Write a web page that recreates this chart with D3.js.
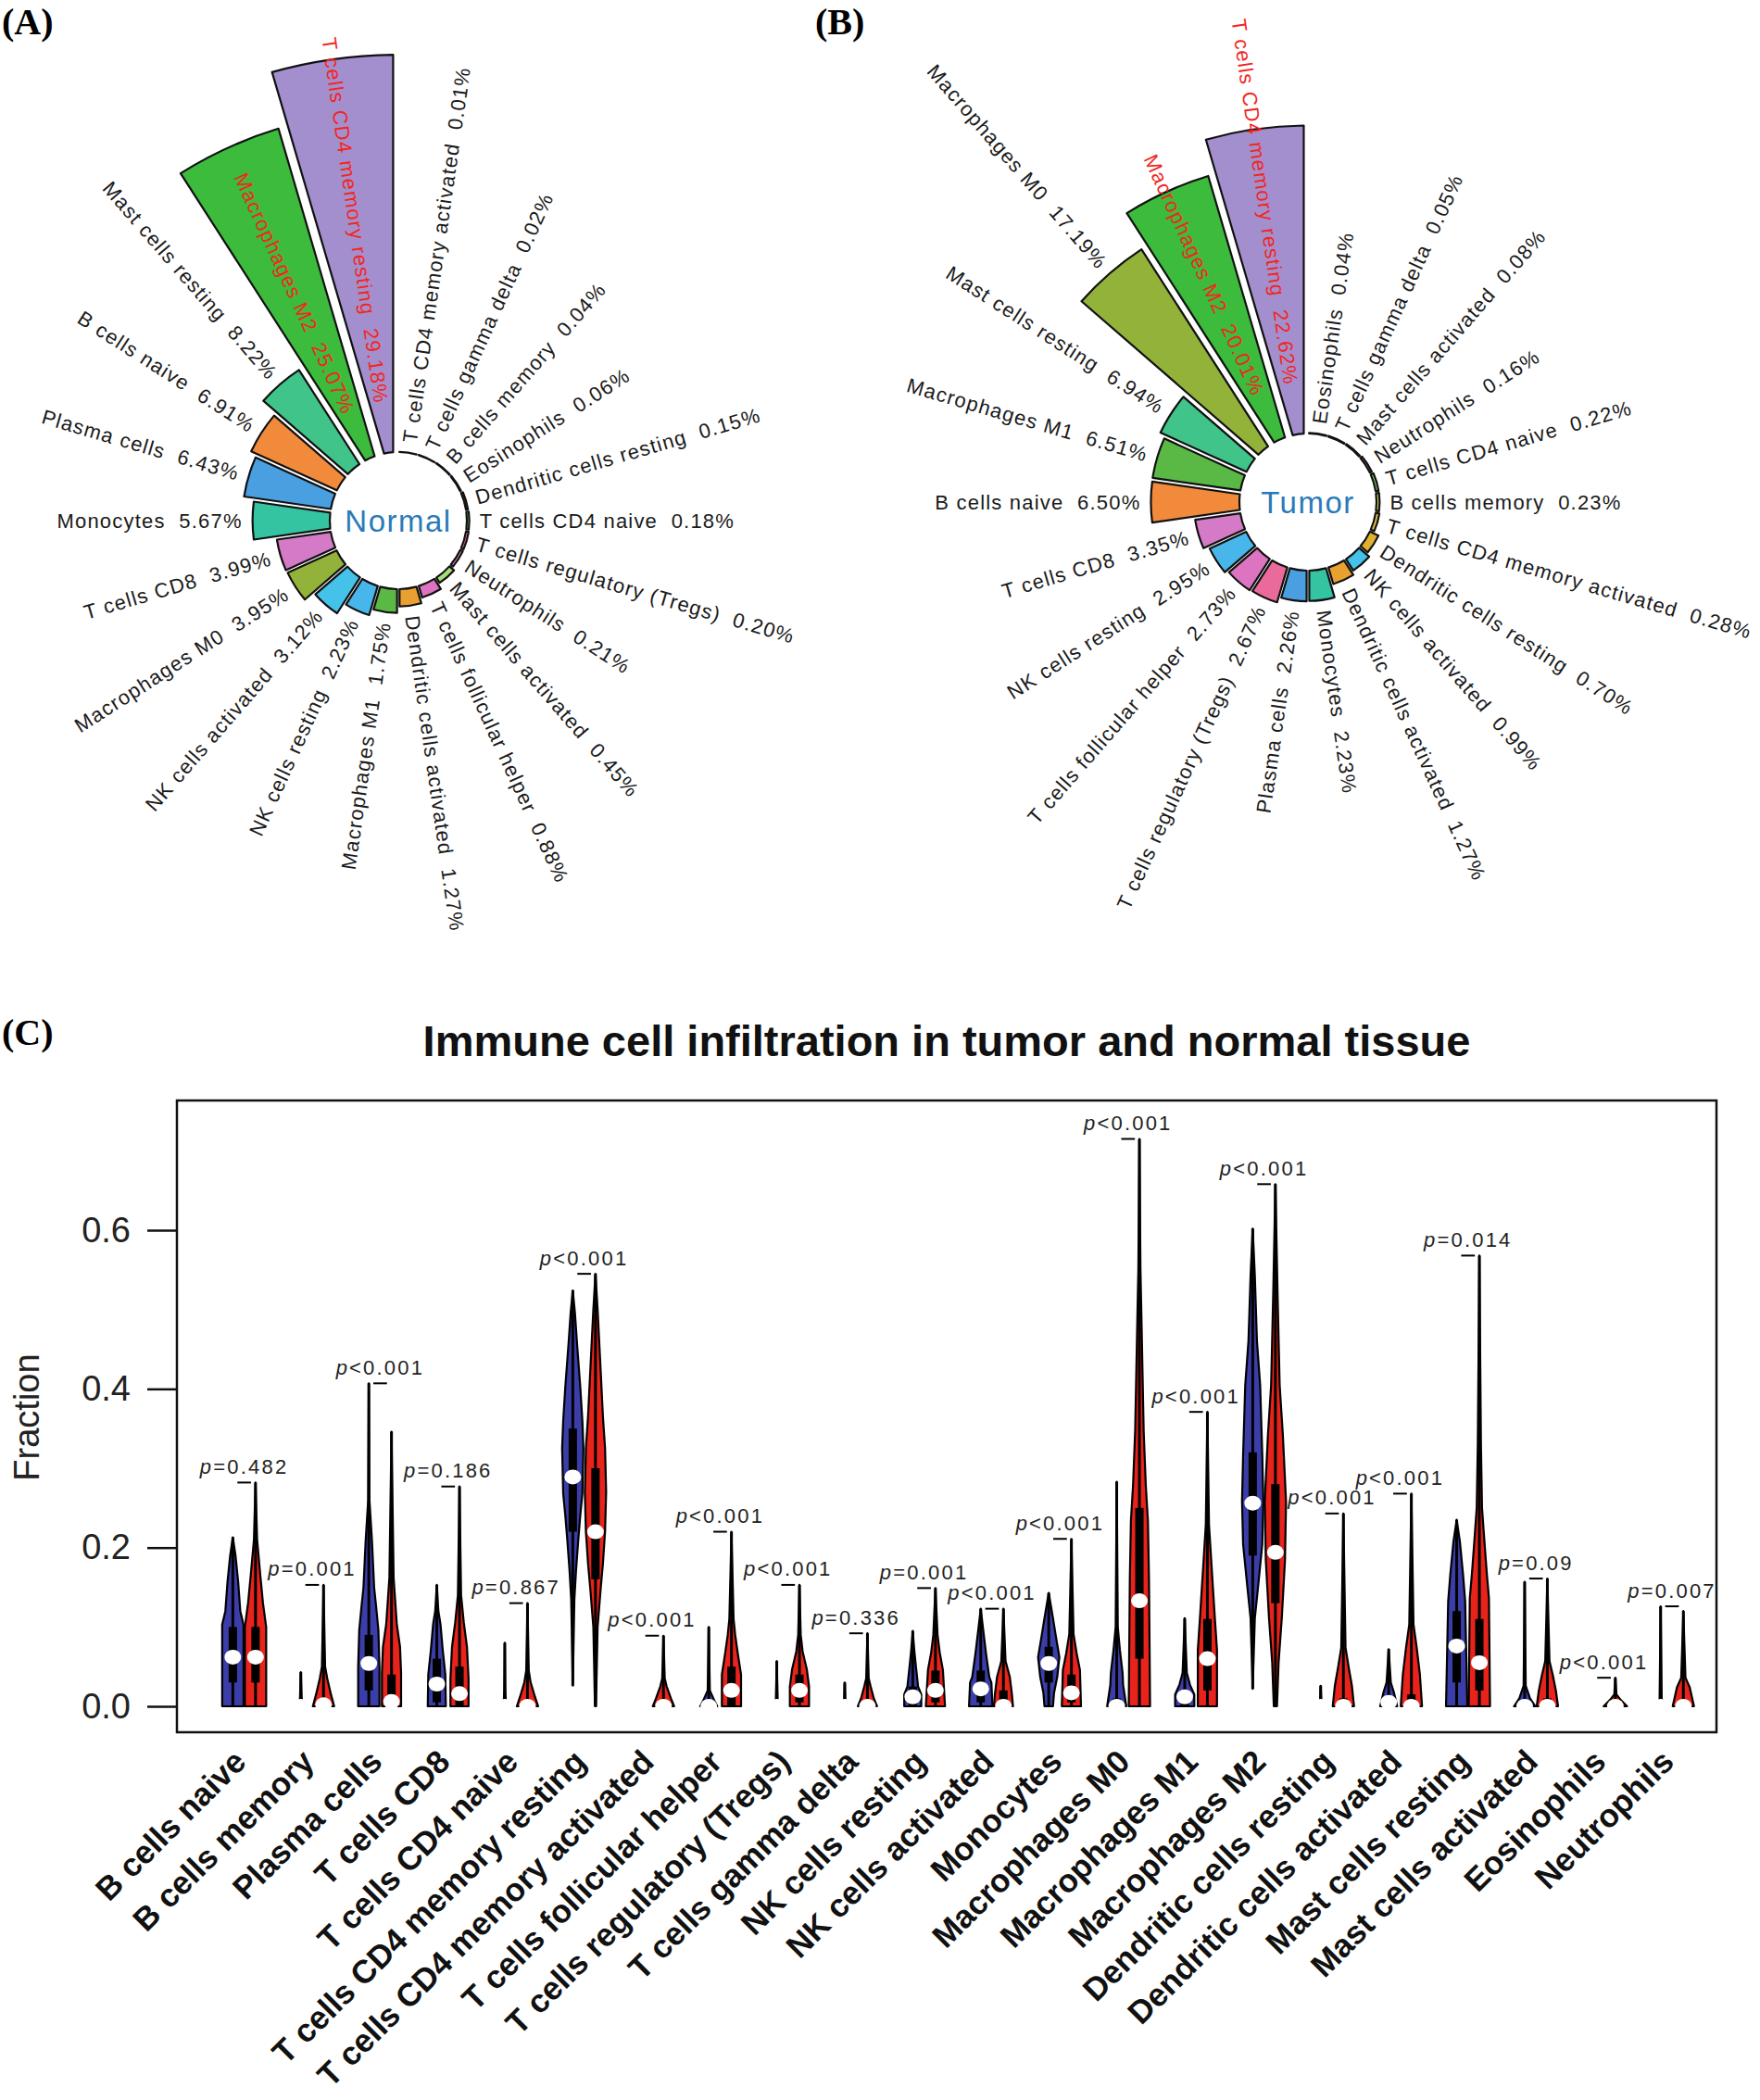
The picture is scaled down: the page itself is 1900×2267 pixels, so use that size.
<!DOCTYPE html>
<html>
<head>
<meta charset="utf-8">
<script src="https://cdn.jsdelivr.net/npm/d3@7"></script>
<style>
  body { margin: 0; background: #fff; }
  svg text { font-family: "Liberation Sans", Arial, sans-serif; }
  .panel-tag { font-family: "Liberation Serif", "Times New Roman", serif !important; font-weight: bold; font-size: 40px; }
</style>
</head>
<body>
<svg id="fig" width="1900" height="2267"></svg>
<script>
// ---- panel A / B : mean fractions (%) in normal and tumour tissue
const normalCells = ["T cells CD4 memory resting", "Macrophages M2", "Mast cells resting", "B cells naive",
  "Plasma cells", "Monocytes", "T cells CD8", "Macrophages M0", "NK cells activated", "NK cells resting",
  "Macrophages M1", "Dendritic cells activated", "T cells follicular helper", "Mast cells activated",
  "Neutrophils", "T cells regulatory (Tregs)", "T cells CD4 naive", "Dendritic cells resting",
  "Eosinophils", "B cells memory", "T cells gamma delta", "T cells CD4 memory activated"];
const normalShares = [29.18, 25.07, 8.22, 6.91, 6.43, 5.67, 3.99, 3.95, 3.12, 2.23, 1.75, 1.27, 0.88, 0.45,
  0.21, 0.20, 0.18, 0.15, 0.06, 0.04, 0.02, 0.01];

const tumorCells = ["T cells CD4 memory resting", "Macrophages M2", "Macrophages M0", "Mast cells resting",
  "Macrophages M1", "B cells naive", "T cells CD8", "NK cells resting", "T cells follicular helper",
  "T cells regulatory (Tregs)", "Plasma cells", "Monocytes", "Dendritic cells activated", "NK cells activated",
  "Dendritic cells resting", "T cells CD4 memory activated", "B cells memory", "T cells CD4 naive",
  "Neutrophils", "Mast cells activated", "T cells gamma delta", "Eosinophils"];
const tumorShares = [22.62, 20.01, 17.19, 6.94, 6.51, 6.50, 3.35, 2.95, 2.73, 2.67, 2.26, 2.23, 1.27, 0.99,
  0.70, 0.28, 0.23, 0.22, 0.16, 0.08, 0.05, 0.04];

// ---- panel C : violins, knots are [fraction, relative density]
const immuneTypes = ["B cells naive", "B cells memory", "Plasma cells", "T cells CD8", "T cells CD4 naive",
  "T cells CD4 memory resting", "T cells CD4 memory activated", "T cells follicular helper",
  "T cells regulatory (Tregs)", "T cells gamma delta", "NK cells resting", "NK cells activated", "Monocytes",
  "Macrophages M0", "Macrophages M1", "Macrophages M2", "Dendritic cells resting", "Dendritic cells activated",
  "Mast cells resting", "Mast cells activated", "Eosinophils", "Neutrophils"];
const pLabels = ["=0.482", "=0.001", "<0.001", "=0.186", "=0.867", "<0.001", "<0.001", "<0.001", "<0.001",
  "=0.336", "=0.001", "<0.001", "<0.001", "<0.001", "<0.001", "<0.001", "<0.001", "<0.001", "=0.014",
  "=0.09", "<0.001", "=0.007"];

const normalViolins = [
  [[0, 1.0], [0.103, 1.0], [0.12, 0.7], [0.157, 0.5], [0.19, 0.25], [0.213, 0]],
  [[0, 0.15], [0.01, 0.08], [0.043, 0]],
  [[0, 1.0], [0.05, 1.0], [0.096, 0.9], [0.124, 0.7], [0.15, 0.5], [0.208, 0.3], [0.26, 0.06], [0.407, 0]],
  [[0, 0.85], [0.04, 0.8], [0.072, 0.55], [0.103, 0.35], [0.12, 0.15], [0.153, 0]],
  [[0, 0.12], [0.02, 0.05], [0.08, 0]],
  [[0.026, 0], [0.135, 0.15], [0.17, 0.3], [0.207, 0.5], [0.24, 0.7], [0.268, 0.9], [0.325, 1.0], [0.36, 0.9],
    [0.403, 0.7], [0.457, 0.4], [0.496, 0.2], [0.524, 0]],
  [[0, 0.06], [0.004, 0]],
  [[0, 0.8], [0.008, 0.5], [0.02, 0.1], [0.10, 0]],
  [[0, 0.1], [0.057, 0]],
  [[0, 0.08], [0.03, 0]],
  [[0, 0.8], [0.015, 0.8], [0.025, 0.5], [0.05, 0.3], [0.07, 0.15], [0.095, 0]],
  [[0, 1.1], [0.03, 1.0], [0.037, 0.8], [0.066, 0.5], [0.10, 0.2], [0.123, 0]],
  [[0, 0.4], [0.017, 0.5], [0.037, 0.8], [0.062, 1.0], [0.086, 0.7], [0.111, 0.4], [0.143, 0]],
  [[0, 0.9], [0.027, 0.6], [0.042, 0.55], [0.071, 0.3], [0.10, 0.1], [0.283, 0]],
  [[0, 0.9], [0.015, 0.9], [0.027, 0.5], [0.042, 0.2], [0.111, 0]],
  [[0.022, 0], [0.111, 0.2], [0.15, 0.5], [0.204, 0.9], [0.258, 1.0], [0.317, 0.9], [0.405, 0.7], [0.46, 0.4],
    [0.543, 0.2], [0.602, 0]],
  [[0, 0.08], [0.026, 0]],
  [[0, 0.8], [0.017, 0.5], [0.03, 0.2], [0.072, 0]],
  [[0, 1.0], [0.132, 0.8], [0.166, 0.6], [0.208, 0.3], [0.235, 0]],
  [[0, 1.0], [0.01, 0.5], [0.026, 0.1], [0.157, 0]],
  [[0, 0.05], [0.003, 0]],
  [[0, 0.3], [0.01, 0.1], [0.126, 0]]
];
const tumorViolins = [
  [[0, 1.0], [0.10, 1.0], [0.13, 0.7], [0.165, 0.45], [0.21, 0.15], [0.282, 0]],
  [[0, 1.0], [0.015, 0.7], [0.035, 0.35], [0.05, 0.15], [0.153, 0]],
  [[0, 0.9], [0.042, 0.9], [0.075, 0.8], [0.103, 0.5], [0.162, 0.2], [0.346, 0]],
  [[0, 0.85], [0.035, 0.85], [0.075, 0.7], [0.106, 0.4], [0.14, 0.15], [0.277, 0]],
  [[0, 1.0], [0.012, 0.7], [0.03, 0.3], [0.045, 0.12], [0.13, 0]],
  [[0, 0.05], [0.10, 0.2], [0.15, 0.5], [0.18, 0.7], [0.22, 0.9], [0.27, 1.0], [0.325, 0.9], [0.365, 0.7],
    [0.42, 0.5], [0.50, 0.2], [0.545, 0]],
  [[0, 1.0], [0.01, 0.7], [0.025, 0.3], [0.035, 0.12], [0.089, 0]],
  [[0, 0.9], [0.04, 0.9], [0.066, 0.6], [0.09, 0.35], [0.11, 0.2], [0.22, 0]],
  [[0, 0.9], [0.025, 0.9], [0.046, 0.7], [0.069, 0.3], [0.09, 0.12], [0.153, 0]],
  [[0, 0.9], [0.01, 0.6], [0.025, 0.3], [0.035, 0.12], [0.092, 0]],
  [[0, 0.9], [0.046, 0.7], [0.068, 0.4], [0.09, 0.2], [0.149, 0]],
  [[0, 0.9], [0.015, 0.8], [0.037, 0.6], [0.057, 0.2], [0.123, 0]],
  [[0, 0.9], [0.046, 0.8], [0.066, 0.5], [0.091, 0.2], [0.211, 0]],
  [[0, 1.0], [0.16, 0.9], [0.233, 0.8], [0.278, 0.6], [0.347, 0.4], [0.484, 0.2], [0.55, 0.1], [0.715, 0]],
  [[0, 0.9], [0.071, 0.9], [0.111, 0.7], [0.175, 0.4], [0.229, 0.15], [0.371, 0]],
  [[0, 0.15], [0.055, 0.3], [0.111, 0.6], [0.184, 0.9], [0.258, 1.0], [0.342, 0.7], [0.405, 0.4], [0.523, 0.2],
    [0.658, 0]],
  [[0, 1.0], [0.026, 0.8], [0.049, 0.5], [0.074, 0.2], [0.243, 0]],
  [[0, 1.0], [0.04, 0.8], [0.074, 0.5], [0.103, 0.2], [0.268, 0]],
  [[0, 1.0], [0.136, 0.9], [0.167, 0.7], [0.203, 0.5], [0.25, 0.25], [0.328, 0.15], [0.568, 0]],
  [[0, 1.0], [0.02, 0.8], [0.04, 0.5], [0.057, 0.2], [0.161, 0]],
  [[0, 1.1], [0.008, 0.5], [0.015, 0.1], [0.036, 0]],
  [[0, 1.0], [0.012, 0.8], [0.024, 0.6], [0.036, 0.2], [0.12, 0]]
];
const normalMedians = [0.062, 0, 0.054, 0.028, 0, 0.289, 0, 0, 0, 0, 0.012, 0.022, 0.054, 0, 0.012, 0.256,
  0, 0.005, 0.076, 0, 0, 0];
const tumorMedians = [0.062, 0.002, 0.006, 0.016, 0, 0.22, 0, 0.02, 0.02, 0, 0.02, 0, 0.017, 0.133, 0.06,
  0.194, 0, 0, 0.055, 0, 0, 0];
const normalBoxes = [[0.03, 0.10], [0, 0], [0.02, 0.09], [0.005, 0.06], [0, 0], [0.22, 0.35], [0, 0], [0, 0],
  [0, 0], [0, 0], [0, 0.025], [0.005, 0.045], [0.03, 0.075], [0, 0.01], [0, 0.02], [0.19, 0.32], [0, 0],
  [0, 0.01], [0.03, 0.12], [0, 0], [0, 0], [0, 0]];
const tumorBoxes = [[0.03, 0.10], [0, 0.01], [0, 0.04], [0, 0.05], [0, 0.005], [0.16, 0.30], [0, 0.005],
  [0, 0.05], [0.005, 0.04], [0, 0.005], [0.005, 0.045], [0, 0.02], [0.005, 0.04], [0.06, 0.25], [0.02, 0.11],
  [0.13, 0.28], [0, 0.01], [0, 0.015], [0.02, 0.11], [0, 0.01], [0, 0], [0, 0.005]];

const yTicks = [0, 0.2, 0.4, 0.6];

// colours of the cell types in the two circular plots
const cellColors = {
  "B cells naive": "#f28a3c", "B cells memory": "#c8d84a", "Plasma cells": "#4a9fe0",
  "T cells CD8": "#d47ac6", "T cells CD4 naive": "#8ad06a", "T cells CD4 memory resting": "#a48fce",
  "T cells CD4 memory activated": "#e8c040", "T cells follicular helper": "#dc74c2",
  "T cells regulatory (Tregs)": "#ea6a9c", "T cells gamma delta": "#60c8a0", "NK cells resting": "#48b6ea",
  "NK cells activated": "#44c2ea", "Monocytes": "#34c4a2", "Macrophages M0": "#92b23a",
  "Macrophages M1": "#5ab845", "Macrophages M2": "#3cbb3c", "Dendritic cells resting": "#e0b030",
  "Dendritic cells activated": "#e8a030", "Mast cells resting": "#40c48a", "Mast cells activated": "#a8dc78",
  "Eosinophils": "#b0a0e0", "Neutrophils": "#f0a0c0"
};

const svg = d3.select("#fig");

// panel tags
svg.append("text").attr("class", "panel-tag").attr("x", 2).attr("y", 37).text("(A)");
svg.append("text").attr("class", "panel-tag").attr("x", 880).attr("y", 37).text("(B)");
svg.append("text").attr("class", "panel-tag").attr("x", 2).attr("y", 1128).text("(C)");

// ---------- circular bar plots
const innerR = 74;
const rScale = d3.scaleLinear().domain([0, 30]).range([innerR, innerR + 14.7 * 30]);
const slot = d3.scaleBand().domain(d3.range(22)).range([0, 2 * Math.PI]);
const arc = d3.arc().padAngle(0.022);

function drawPolar(cells, shares, cx, cy, centreText) {
  const g = svg.append("g").attr("transform", `translate(${cx},${cy})`);
  g.append("circle").attr("r", innerR).attr("fill", "#fff");
  const bw = slot.bandwidth();
  cells.forEach((name, i) => {
    const v = shares[i];
    const a1 = 2 * Math.PI - slot(i);
    g.append("path")
      .attr("d", arc({ innerRadius: innerR, outerRadius: rScale(v), startAngle: a1 - bw, endAngle: a1 }))
      .attr("fill", cellColors[name])
      .attr("stroke", "#111")
      .attr("stroke-width", 2.2)
      .attr("stroke-linejoin", "round");

    // labels run along the slot, inward on the left half, outward on the right
    const theta = a1 - bw / 2;
    const deg = theta * 180 / Math.PI;
    const right = deg < 180;
    const inside = v > 18;
    const r = inside ? 128 : rScale(v) + 11;
    g.append("text")
      .attr("transform", `translate(${r * Math.sin(theta)},${-r * Math.cos(theta)}) rotate(${right ? deg - 90 : deg - 270})`)
      .attr("text-anchor", right ? "start" : "end")
      .attr("dy", "0.35em")
      .style("white-space", "pre")
      .style("letter-spacing", "1.2px")
      .attr("font-size", 22)
      .attr("fill", inside ? "#f2261e" : "#1a1a1a")
      .text(`${name}  ${v.toFixed(2)}%`);
  });
  g.append("text")
    .attr("text-anchor", "middle")
    .attr("dy", "0.36em")
    .attr("font-size", 33)
    .style("letter-spacing", "1.5px")
    .attr("fill", "#2a7ab9")
    .text(centreText);
}
drawPolar(normalCells, normalShares, 430, 562, "Normal");
drawPolar(tumorCells, tumorShares, 1412, 542, "Tumor");

// ---------- violin plot
const plot = { left: 191, right: 1853, top: 1188, bottom: 1870 };
const x = d3.scalePoint().domain(immuneTypes).range([263.6, 1805]);
const y = d3.scaleLinear().domain([0, 0.6]).range([1842, 1328]);
const halfW = d3.scaleLinear().domain([0, 1]).range([0, 11.5]);
const pairOffset = 12.25;

svg.append("text")
  .attr("x", (plot.left + plot.right) / 2).attr("y", 1140)
  .attr("text-anchor", "middle").attr("font-size", 47).attr("font-weight", "bold")
  .attr("fill", "#111")
  .text("Immune cell infiltration in tumor and normal tissue");

const yAxis = svg.append("g")
  .attr("transform", `translate(${plot.left},0)`)
  .call(d3.axisLeft(y).tickValues(yTicks).tickFormat(d3.format(".1f")).tickSize(32).tickPadding(18));
yAxis.select(".domain").remove();
yAxis.selectAll(".tick line").attr("stroke", "#111").attr("stroke-width", 2.5);
yAxis.selectAll(".tick text").attr("font-size", 38).attr("fill", "#222")
  .attr("font-family", "'Liberation Sans', Arial, sans-serif");

svg.append("text")
  .attr("transform", "translate(42,1530) rotate(-90)")
  .attr("text-anchor", "middle").attr("font-size", 38).attr("fill", "#222")
  .text("Fraction");

const violinArea = (cx) => d3.area()
  .y(d => y(d[0]))
  .x0(d => cx - halfW(d[1]))
  .x1(d => cx + halfW(d[1]));

function drawViolin(knots, median, box, cx, fill) {
  svg.append("path")
    .attr("d", violinArea(cx)(knots))
    .attr("fill", fill).attr("stroke", "#000").attr("stroke-width", 2.2)
    .attr("stroke-linejoin", "round");
  svg.append("line")
    .attr("x1", cx).attr("x2", cx)
    .attr("y1", y(knots[0][0])).attr("y2", y(knots[knots.length - 1][0]))
    .attr("stroke", "#000").attr("stroke-width", 3);
  if (box[1] > box[0]) {
    svg.append("rect")
      .attr("x", cx - 4.5).attr("width", 9)
      .attr("y", y(box[1])).attr("height", y(box[0]) - y(box[1]))
      .attr("fill", "#000");
  }
  svg.append("ellipse")
    .attr("cx", cx).attr("cy", y(median)).attr("rx", 9).attr("ry", 8)
    .attr("fill", "#fff");
}

immuneTypes.forEach((name, i) => {
  const xn = x(name) - pairOffset, xt = x(name) + pairOffset;
  drawViolin(normalViolins[i], normalMedians[i], normalBoxes[i], xn, "#3b3ea8");
  drawViolin(tumorViolins[i], tumorMedians[i], tumorBoxes[i], xt, "#e8231b");

  // bracket + wilcoxon p value above the taller violin
  const mx = Math.max(normalViolins[i][normalViolins[i].length - 1][0],
                      tumorViolins[i][tumorViolins[i].length - 1][0]);
  svg.append("line")
    .attr("x1", xn + 0.2 * (xt - xn)).attr("x2", xn + 0.8 * (xt - xn))
    .attr("y1", y(mx)).attr("y2", y(mx))
    .attr("stroke", "#000").attr("stroke-width", 2);
  const t = svg.append("text")
    .attr("x", x(name)).attr("y", y(mx + 0.02)).attr("dy", "0.35em")
    .attr("text-anchor", "middle").attr("font-size", 22).attr("fill", "#222")
    .style("letter-spacing", "2.2px");
  t.append("tspan").attr("font-style", "italic").text("p");
  t.append("tspan").text(pLabels[i]);

  svg.append("text")
    .attr("transform", `translate(${x(name) + 4},1904) rotate(-45)`)
    .attr("text-anchor", "end").attr("font-size", 35).attr("font-weight", "bold")
    .attr("fill", "#111")
    .text(name);
});

svg.append("rect")
  .attr("x", plot.left).attr("y", plot.top)
  .attr("width", plot.right - plot.left).attr("height", plot.bottom - plot.top)
  .attr("fill", "none").attr("stroke", "#111").attr("stroke-width", 2.5);
</script>
</body>
</html>
